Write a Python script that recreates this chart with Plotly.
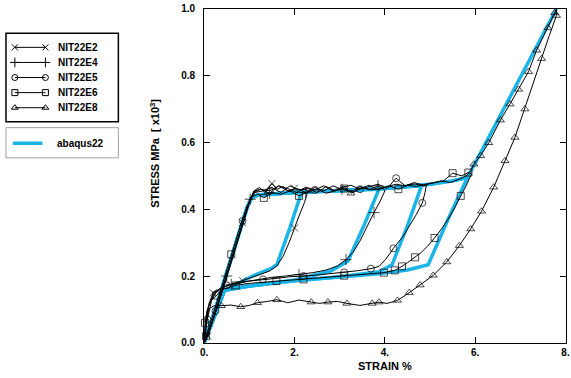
import plotly.graph_objects as go

# ---------------- data (strain %, stress MPa x10^3) ----------------
# NIT22E2 (x markers)
E2_x = [0, 0.08, 0.25, 0.45, 0.65, 0.85, 1.0, 1.1,
        1.22, 1.35, 1.5, 1.62, 1.75, 1.88, 2.0, 2.12, 2.25,
        2.3, 2.22, 2.1, 2.0, 1.88, 1.75, 1.62, 1.45, 1.25, 1.05, 0.85, 0.65, 0.5, 0.35, 0.2, 0.1, 0.03, 0]
E2_y = [0, 0.02, 0.09, 0.18, 0.27, 0.36, 0.42, 0.455,
        0.465, 0.45, 0.477, 0.46, 0.468, 0.452, 0.463, 0.458, 0.46,
        0.455, 0.42, 0.38, 0.344, 0.3, 0.26, 0.232, 0.215, 0.205, 0.195, 0.186, 0.178, 0.17, 0.162, 0.15, 0.115, 0.06, 0]
E2_marks = [1, 5, 10, 14, 20, 27, 31]

# NIT22E4 (+ markers)
E4_x = [0, 0.1, 0.3, 0.5, 0.7, 0.9, 1.02, 1.12,
        1.25, 1.45, 1.65, 1.85, 2.05, 2.25, 2.45, 2.65, 2.85, 3.05, 3.25, 3.45, 3.65, 3.85, 3.98,
        4.0, 3.9, 3.76, 3.6, 3.45, 3.3, 3.14, 2.95, 2.7, 2.4, 2.1, 1.8, 1.5, 1.2, 0.9, 0.6, 0.4, 0.22, 0.1, 0.03, 0]
E4_y = [0, 0.03, 0.11, 0.2, 0.29, 0.38, 0.43, 0.455,
        0.46, 0.448, 0.47, 0.455, 0.462, 0.45, 0.465, 0.455, 0.47, 0.46, 0.452, 0.468, 0.458, 0.47, 0.46,
        0.455, 0.425, 0.39, 0.345, 0.305, 0.272, 0.249, 0.23, 0.218, 0.21, 0.204, 0.2, 0.196, 0.19, 0.183, 0.175, 0.165, 0.148, 0.11, 0.055, 0]
E4_marks = [3, 6, 9, 13, 17, 21, 25, 29, 33, 38]

# NIT22E5 (circle markers)
E5_x = [0, 0.07, 0.25, 0.45, 0.65, 0.85, 1.0, 1.1,
        1.25, 1.45, 1.65, 1.85, 2.05, 2.25, 2.45, 2.65, 2.85, 3.05, 3.25, 3.45, 3.65, 3.85, 4.05, 4.25, 4.45, 4.65, 4.85,
        4.92, 4.89, 4.83, 4.7, 4.55, 4.4, 4.19, 4.02, 3.87, 3.69, 3.4, 3.1, 2.8, 2.5, 2.2, 1.9, 1.6, 1.3, 1.0, 0.75, 0.5, 0.3, 0.17, 0.07, 0]
E5_y = [0, 0.02, 0.095, 0.185, 0.275, 0.365, 0.425, 0.45,
        0.46, 0.455, 0.47, 0.462, 0.45, 0.466, 0.458, 0.47, 0.455, 0.464, 0.472, 0.46, 0.468, 0.475, 0.462, 0.493, 0.47, 0.476, 0.47,
        0.472, 0.45, 0.419, 0.385, 0.35, 0.318, 0.283, 0.25, 0.229, 0.222, 0.216, 0.211, 0.206, 0.203, 0.2, 0.198, 0.193, 0.19, 0.185, 0.179, 0.172, 0.158, 0.13, 0.07, 0]
E5_marks = [2, 5, 9, 14, 19, 23, 29, 33, 36, 38, 41, 44, 47, 50]

# NIT22E6 (square markers)
E6_x = [0, 0.04, 0.2, 0.4, 0.6, 0.8, 0.95, 1.08,
        1.2, 1.32, 1.5, 1.7, 1.9, 2.1, 2.3, 2.5, 2.7, 2.9, 3.1, 3.3, 3.5, 3.7, 3.9, 4.1, 4.3, 4.5, 4.7, 4.9, 5.1, 5.3, 5.5, 5.7, 5.85, 5.93,
        5.9, 5.8, 5.68, 5.55, 5.4, 5.25, 5.1, 4.95, 4.8, 4.67, 4.5, 4.38, 4.22, 3.98, 3.7, 3.4, 3.1, 2.8, 2.5, 2.2, 1.9, 1.6, 1.3, 1.0, 0.7, 0.45, 0.27, 0.15, 0.06, 0.02, 0]
E6_y = [0, 0.02, 0.085, 0.175, 0.265, 0.35, 0.41, 0.44,
        0.445, 0.434, 0.45, 0.445, 0.455, 0.44, 0.452, 0.46, 0.448, 0.455, 0.462, 0.45, 0.465, 0.458, 0.462, 0.47, 0.46, 0.472, 0.468, 0.475, 0.48, 0.485, 0.508, 0.5, 0.51, 0.505,
        0.5, 0.47, 0.44, 0.405, 0.37, 0.34, 0.314, 0.29, 0.27, 0.256, 0.24, 0.229, 0.217, 0.21, 0.207, 0.205, 0.201, 0.197, 0.194, 0.19, 0.187, 0.185, 0.182, 0.178, 0.172, 0.162, 0.142, 0.125, 0.095, 0.06, 0]
E6_marks = [1, 4, 9, 13, 18, 24, 30, 32, 36, 40, 43, 45, 46, 47, 50, 53, 55, 58, 60, 63]

# NIT22E8 (triangle markers)
E8_x = [0, 0.06, 0.25, 0.45, 0.65, 0.85, 1.0, 1.12,
        1.3, 1.5, 1.7, 1.9, 2.1, 2.3, 2.5, 2.7, 2.9, 3.1, 3.25, 3.45, 3.65, 3.85, 4.05, 4.25, 4.45, 4.65, 4.85, 5.05, 5.25, 5.45, 5.65, 5.8,
        5.9, 5.97, 6.12, 6.3, 6.56, 6.77, 6.96, 7.18, 7.36, 7.61, 7.76, 7.8,
        7.8, 7.64, 7.47, 7.28, 7.1, 6.88, 6.66, 6.41, 6.14, 5.9, 5.65, 5.37, 5.07, 4.78, 4.54, 4.28, 4.05, 3.87, 3.72, 3.45, 3.16,
        2.95, 2.74, 2.55, 2.37, 2.1, 1.85, 1.61, 1.4, 1.18, 1.0, 0.81, 0.6, 0.38, 0.2, 0.1, 0.05, 0]
E8_y = [0, 0.02, 0.09, 0.18, 0.27, 0.36, 0.42, 0.45,
        0.455, 0.465, 0.45, 0.47, 0.458, 0.462, 0.45, 0.468, 0.455, 0.47, 0.448, 0.462, 0.472, 0.458, 0.468, 0.475, 0.47, 0.48, 0.472, 0.478, 0.485, 0.48, 0.49, 0.5,
        0.515, 0.535, 0.56, 0.599, 0.667, 0.715, 0.759, 0.812, 0.876, 0.943, 0.988, 1.0,
        0.98, 0.92, 0.851, 0.775, 0.7, 0.615, 0.545, 0.466, 0.394, 0.341, 0.291, 0.242, 0.202, 0.173, 0.15, 0.127, 0.118, 0.122, 0.118, 0.112, 0.118,
        0.124, 0.122, 0.118, 0.122, 0.128, 0.12, 0.129, 0.124, 0.12, 0.112, 0.108, 0.113, 0.111, 0.11, 0.1, 0.06, 0]
E8_marks = [18, 33, 34, 35, 36, 37, 38, 39, 40, 41, 42,
            44, 46, 48, 49, 50, 51, 52, 53, 54, 55, 56, 57, 58, 59, 61, 62, 64, 66, 68, 71, 73, 75, 77]

# abaqus22 simulation (cyan)
C1_x = [0, 0.25, 0.5, 0.75, 0.95, 1.05, 1.2, 1.6, 2.16, 1.9, 1.61, 1.5, 1.07, 0.45, 0]
C1_y = [0, 0.1, 0.21, 0.32, 0.405, 0.435, 0.443, 0.447, 0.453, 0.345, 0.234, 0.224, 0.2, 0.157, 0]
C2_x = [0, 0.25, 0.5, 0.75, 0.95, 1.05, 1.2, 2.0, 3.0, 3.87, 3.55, 3.18, 2.8, 2.0, 1.0, 0.45, 0]
C2_y = [0, 0.1, 0.21, 0.32, 0.405, 0.435, 0.443, 0.45, 0.456, 0.46, 0.355, 0.244, 0.215, 0.188, 0.17, 0.157, 0]
C3_x = [0, 0.25, 0.5, 0.75, 0.95, 1.05, 1.2, 2.0, 3.0, 4.0, 4.81, 4.5, 4.16, 3.87, 3.0, 2.0, 1.0, 0.45, 0]
C3_y = [0, 0.1, 0.21, 0.32, 0.405, 0.435, 0.443, 0.45, 0.456, 0.462, 0.47, 0.35, 0.234, 0.213, 0.198, 0.186, 0.17, 0.157, 0]
C4_x = [0, 0.25, 0.5, 0.75, 0.95, 1.05, 1.2, 2.0, 3.0, 4.0, 5.0, 5.5, 5.83, 5.4, 4.96, 4.5, 3.87, 3.0, 2.0, 1.0, 0.45, 0]
C4_y = [0, 0.1, 0.21, 0.32, 0.405, 0.435, 0.443, 0.45, 0.456, 0.462, 0.475, 0.485, 0.495, 0.37, 0.234, 0.218, 0.207, 0.197, 0.186, 0.17, 0.157, 0]
C5_x = [0, 0.25, 0.5, 0.75, 0.95, 1.05, 1.2, 2.0, 3.0, 4.0, 5.0, 5.5, 5.83, 7.8]
C5_y = [0, 0.1, 0.21, 0.32, 0.405, 0.435, 0.443, 0.45, 0.456, 0.462, 0.475, 0.485, 0.495, 1.0]

x_ticks = [0, 2, 4, 6, 8]
x_ticklabels = ["0.", "2.", "4.", "6.", "8."]
y_ticks = [0, 0.2, 0.4, 0.6, 0.8, 1.0]
y_ticklabels = ["0.0", "0.2", "0.4", "0.6", "0.8", "1.0"]

series_names = ["NIT22E2", "NIT22E4", "NIT22E5", "NIT22E6", "NIT22E8"]
sim_name = "abaqus22"

# ---------------- styling ----------------
W, H = 571, 378
FONT = "Liberation Sans, Arial, Helvetica, sans-serif"
CYAN = "#1AB4E8"
symbols = ["x-thin-open", "cross-thin-open", "circle-open", "square-open", "triangle-up-open"]
msizes = [7, 8, 7, 7, 7]
leg_sizes = [6, 7, 6, 6, 6]

fig = go.Figure()

for cx, cy in [(C1_x, C1_y), (C2_x, C2_y), (C3_x, C3_y), (C4_x, C4_y), (C5_x, C5_y)]:
    fig.add_trace(go.Scatter(x=cx, y=cy, mode="lines", line=dict(color=CYAN, width=3.5),
                             showlegend=False, hoverinfo="skip"))

exp = [(E2_x, E2_y, E2_marks), (E4_x, E4_y, E4_marks), (E5_x, E5_y, E5_marks),
       (E6_x, E6_y, E6_marks), (E8_x, E8_y, E8_marks)]
for k, (ex, ey, em) in enumerate(exp):
    sizes = [msizes[k] if i in em else 0 for i in range(len(ex))]
    fig.add_trace(go.Scatter(x=ex, y=ey, mode="lines+markers",
                             line=dict(color="black", width=1),
                             marker=dict(symbol=symbols[k], size=sizes, color="black",
                                         line=dict(color="black", width=1)),
                             name=series_names[k], showlegend=False, cliponaxis=False))

# ---------------- custom legend (drawn on a pixel-unit helper axis) ----------------
LX0, LX1 = 0, 150           # helper x axis spans these pixels
LY0, LY1 = 0, 189           # helper y axis spans these pixels (top half)
row_y = [43.5, 59, 74.5, 90, 105.5]
for k in range(5):
    fig.add_trace(go.Scatter(x=[11, 42], y=[row_y[k], row_y[k]], mode="lines+markers",
                             xaxis="x2", yaxis="y2",
                             line=dict(color="black", width=1),
                             marker=dict(symbol=symbols[k], size=leg_sizes[k], color="black",
                                         line=dict(color="black", width=1)),
                             showlegend=False, hoverinfo="skip", cliponaxis=False))
    fig.add_annotation(x=53, y=row_y[k], xref="x2", yref="y2", text=series_names[k],
                       showarrow=False, xanchor="left", yanchor="middle",
                       font=dict(family=FONT, size=10, color="black", weight="bold"))
fig.add_trace(go.Scatter(x=[9, 39], y=[142, 142], mode="lines", xaxis="x2", yaxis="y2",
                         line=dict(color=CYAN, width=3.5), showlegend=False, hoverinfo="skip"))
fig.add_annotation(x=52, y=142, xref="x2", yref="y2", text=sim_name, showarrow=False,
                   xanchor="left", yanchor="middle",
                   font=dict(family=FONT, size=10, color="black", weight="bold"))
fig.add_shape(type="rect", x0=2, x1=116, y0=29, y1=120, xref="x2", yref="y2",
              line=dict(color="black", width=1.5), fillcolor="rgba(0,0,0,0)")
fig.add_shape(type="rect", x0=2, x1=116, y0=126, y1=157, xref="x2", yref="y2",
              line=dict(color="#A0A0A0", width=1), fillcolor="rgba(0,0,0,0)")

# ---------------- axes ----------------
px_l, px_r, px_t, px_b = 203, 569.5, 4, 347
tickfont = dict(family=FONT, size=10, color="black", weight="bold")
fig.update_layout(
    width=W, height=H, autosize=False,
    margin=dict(l=0, r=0, t=0, b=0),
    paper_bgcolor="white", plot_bgcolor="white",
    showlegend=False,
    xaxis=dict(domain=[px_l / W, px_r / W], range=[0, 8], tickvals=x_ticks, ticktext=x_ticklabels,
               ticks="inside", ticklen=6, tickwidth=1, tickcolor="black",
               showline=True, linecolor="black", linewidth=1, mirror="ticks",
               showgrid=False, zeroline=False, tickfont=tickfont, anchor="y",
               ticklabeloverflow="allow"),
    yaxis=dict(domain=[1 - px_b / H, 1 - px_t / H], range=[0, 1], tickvals=y_ticks, ticktext=y_ticklabels,
               ticks="inside", ticklen=6, tickwidth=1, tickcolor="black",
               showline=True, linecolor="black", linewidth=1, mirror="ticks",
               showgrid=False, zeroline=False, tickfont=tickfont, anchor="x",
               ticklabelstandoff=6, ticklabeloverflow="allow"),
    xaxis2=dict(domain=[LX0 / W, LX1 / W], range=[LX0, LX1], visible=False, fixedrange=True, anchor="y2"),
    yaxis2=dict(domain=[1 - LY1 / H, 1 - LY0 / H], range=[LY1, LY0], visible=False, fixedrange=True, anchor="x2"),
)

fig.add_annotation(x=4, y=1 - 371 / H, xref="x", yref="paper", text="STRAIN %", showarrow=False,
                   xanchor="center", yanchor="middle",
                   font=dict(family=FONT, size=11, color="black", weight="bold"))
fig.add_annotation(x=153 / W, y=1 - 152 / H, xref="paper", yref="paper",
                   text="STRESS MPa&nbsp;&nbsp;[ x10<sup>3</sup>]", showarrow=False, textangle=-90,
                   xanchor="center", yanchor="middle",
                   font=dict(family=FONT, size=11, color="black", weight="bold"))

fig.write_html("out.html", config={"displayModeBar": False},
               post_script="document.body.style.margin='0';")
